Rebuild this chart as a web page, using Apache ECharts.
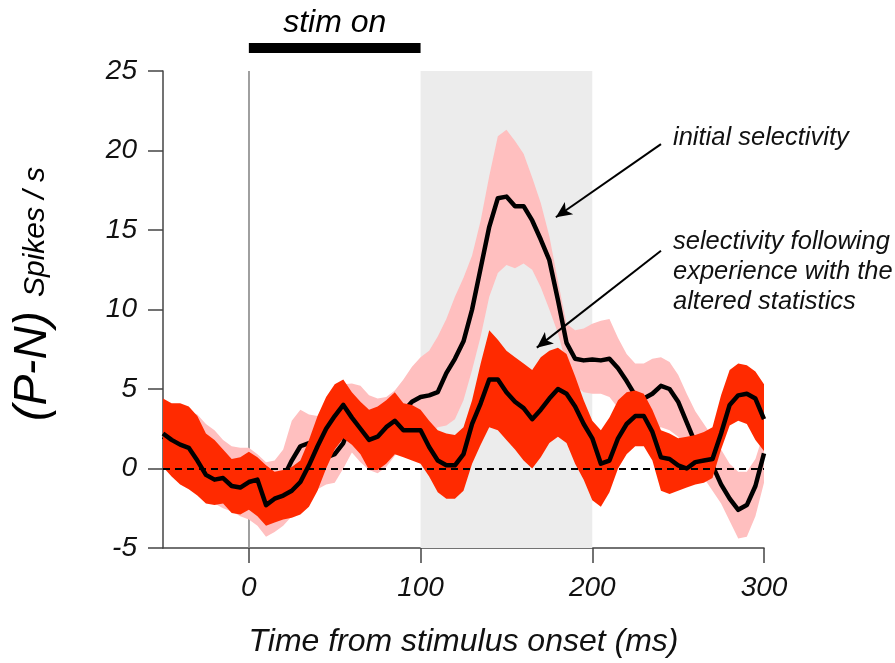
<!DOCTYPE html>
<html>
<head>
<meta charset="utf-8">
<title>Selectivity before and after altered statistics</title>
<script src="https://cdn.jsdelivr.net/npm/echarts@6.0.0/dist/echarts.min.js"></script>
<style>
  html, body { margin: 0; padding: 0; background: #fff; }
  #chart { width: 895px; height: 663px; }
</style>
</head>
<body>
<div id="chart"></div>
<script>
// time axis (ms from stimulus onset)
const timeMs = [
  -50, -45, -40, -35, -30, -25, -20, -15, -10, -5,
  0, 5, 10, 15, 20, 25, 30, 35, 40, 45,
  50, 55, 60, 65, 70, 75, 80, 85, 90, 95,
  100, 105, 110, 115, 120, 125, 130, 135, 140, 145,
  150, 155, 160, 165, 170, 175, 180, 185, 190, 195,
  200, 205, 210, 215, 220, 225, 230, 235, 240, 245,
  250, 255, 260, 265, 270, 275, 280, 285, 290, 295,
  300
];

// initial selectivity (P-N), spikes/s
const initialMean = [
  2.0, 1.7, 1.6, 1.2, 0.6, 0.2, -0.3, -0.5, -0.6, -0.9,
  -1.0, -1.2, -1.5, -1.2, -0.6, 0.5, 1.4, 1.6, 1.2, 0.7,
  0.9, 1.6, 3.0, 2.8, 2.2, 2.0, 2.4, 3.0, 3.6, 4.2,
  4.5, 4.6, 4.8, 6.0, 6.9, 8.0, 10.0, 12.6, 15.2, 17.0,
  17.1, 16.5, 16.5, 15.6, 14.4, 13.1, 10.6, 7.9, 6.9, 6.8,
  6.85, 6.8, 6.9, 6.3, 5.5, 4.6, 4.4, 4.7, 5.2, 5.0,
  4.2, 2.9, 1.6, 0.7, 0.2, -1.0, -1.9, -2.6, -2.3, -1.1,
  0.95
];
const initialHigh = [
  3.9, 3.8, 3.7, 3.6, 3.4, 2.8, 2.4, 1.8, 1.4, 1.3,
  1.3, 0.9, 0.4, 0.5, 1.2, 3.0, 3.7, 3.4, 3.3, 4.2,
  5.0, 5.3, 5.35, 5.2, 4.6, 4.4, 4.5, 4.9, 5.6, 6.4,
  7.0, 7.4, 8.3, 9.4, 10.8, 12.0, 13.4, 15.6, 18.4, 20.9,
  21.3, 20.6, 19.8, 18.3, 16.7, 14.6, 11.8, 9.1, 8.7, 8.8,
  9.1, 9.3, 9.4, 8.2, 7.2, 6.6, 6.6, 6.9, 7.0, 6.7,
  5.9, 4.7, 3.6, 2.8, 2.0, 1.2, 0.3, -0.2, -0.2, 0.6,
  2.3
];
const initialLow = [
  0.3, -0.2, -0.5, -1.0, -1.5, -1.8, -2.2, -2.5, -2.7, -3.0,
  -3.2, -3.6, -4.3, -4.0, -3.6, -3.0, -2.4, -1.8, -1.3, -1.0,
  -0.9, 0.0, 1.0, 0.4, -0.1, -0.3, 0.1, 0.8, 1.4, 1.7,
  1.9, 2.1, 2.6, 2.7, 3.1, 4.3, 6.2, 8.3, 10.8, 12.3,
  12.8, 12.6, 12.9, 12.5, 11.4, 10.0, 8.5, 6.5, 5.2, 4.8,
  4.7, 4.7, 4.5, 3.8, 3.3, 2.8, 2.6, 2.4, 2.6, 2.4,
  2.0, 1.2, 0.3, -0.6, -1.4, -2.2, -3.3, -4.4, -4.3, -3.0,
  -0.9
];

// selectivity following experience with the altered statistics
const alteredMean = [
  2.2, 1.8, 1.5, 1.3, 0.5, -0.4, -0.7, -0.6, -1.1, -1.2,
  -0.85, -0.7, -2.3, -1.9, -1.7, -1.4, -0.85, 0.2, 1.4, 2.5,
  3.3, 4.0, 3.2, 2.5, 1.8, 2.0, 2.6, 3.0, 2.4, 2.4,
  2.4, 1.35, 0.5, 0.2, 0.2, 0.9, 2.8, 4.1, 5.6, 5.6,
  4.8, 4.2, 3.8, 3.1, 3.7, 4.4, 5.0, 4.7, 3.9, 2.8,
  1.9, 0.3, 0.5, 1.9, 2.8, 3.3, 3.3, 2.3, 0.7, 0.6,
  0.2, 0.0, 0.4, 0.5, 0.6, 2.2, 4.0, 4.6, 4.7, 4.4,
  3.1
];
const alteredHigh = [
  4.4, 4.1, 4.1, 3.9, 3.3, 2.2, 1.8, 1.2, 0.6, 0.7,
  1.05, 0.7, 0.2, -0.2, -0.1, 0.1, 0.5, 1.8, 3.3, 4.5,
  5.3, 5.6, 4.8, 4.2, 3.7, 3.9, 4.3, 4.8, 4.1, 4.0,
  3.7, 3.0, 2.4, 2.2, 2.1, 2.6, 4.3, 6.6, 8.7, 8.1,
  7.4, 7.0, 6.6, 6.2, 7.0, 7.4, 7.6, 7.2, 5.8, 4.3,
  3.0, 2.4, 3.2, 4.3, 4.8, 4.9, 4.7, 3.7, 2.4, 2.2,
  1.9, 2.0, 2.1, 2.3, 2.6, 4.6, 6.2, 6.6, 6.5, 6.1,
  5.3
];
const alteredLow = [
  0.1, -0.5, -1.0, -1.3, -1.7, -2.2, -2.3, -2.2, -2.8, -2.9,
  -2.6, -3.0, -3.6, -3.4, -3.2, -3.1, -2.9, -2.4, -1.4, 0.0,
  1.2, 1.9, 1.5, 0.9, -0.1, -0.1, 0.3, 0.9, 0.7, 0.5,
  0.3, -0.5, -1.5, -1.9, -1.9, -1.4, 0.3, 1.5, 2.6, 2.4,
  1.8, 1.2, 0.5, 0.0, 0.7, 1.6, 2.0, 1.6, 0.3, -0.7,
  -2.0, -2.4, -1.5, 0.0, 0.9, 1.4, 1.4, 0.5, -1.4, -1.6,
  -1.4, -1.2, -1.0, -0.9, -0.6, 1.2, 2.7, 3.0, 2.8, 1.8,
  1.1
];

const xTicks = [0, 100, 200, 300];
const stimWindow = [0, 100];
const shadedWindow = [100, 200];
// arrow start / end in data coordinates
const arrowInitial = [[240, 20.4], [178.8, 15.8]];
const arrowAltered = [[240, 13.7], [167.7, 7.6]];

const fontFamily = '"Liberation Sans", Arial, Helvetica, sans-serif';
const axisColor = '#444';

function bandRenderer(low, high, fill) {
  return function (params, api) {
    if (params.dataIndex !== 0) return;
    const points = [];
    for (let i = 0; i < timeMs.length; i++) points.push(api.coord([timeMs[i], high[i]]));
    for (let i = timeMs.length - 1; i >= 0; i--) points.push(api.coord([timeMs[i], low[i]]));
    return {
      type: 'polygon',
      shape: { points: points },
      style: { fill: fill }
    };
  };
}

function bandData(low, high) {
  return timeMs.map((t, i) => [t, low[i], high[i]]);
}

function lineData(values) {
  return timeMs.map((t, i) => [t, values[i]]);
}

function arrow(points) {
  return [
    { coord: points[0], symbol: 'none' },
    { coord: points[1], symbol: 'arrow', symbolSize: [11, 16] }
  ];
}

const chart = echarts.init(document.getElementById('chart'), null, { renderer: 'canvas' });

chart.setOption({
  animation: false,
  textStyle: { fontFamily: fontFamily },
  grid: { left: 163, right: 131, top: 71, bottom: 115 },
  xAxis: {
    type: 'value',
    min: -50,
    max: 300,
    name: 'Time from stimulus onset (ms)',
    nameLocation: 'middle',
    nameGap: 78,
    nameTextStyle: { fontSize: 32, fontStyle: 'italic', color: '#111', fontFamily: fontFamily },
    axisLine: { show: true, onZero: false, lineStyle: { color: axisColor, width: 1.5 } },
    axisTick: { show: true, length: 15, customValues: xTicks, lineStyle: { color: axisColor, width: 1.5 } },
    axisLabel: { customValues: xTicks, fontSize: 28, fontStyle: 'italic', color: '#111', margin: 26 },
    splitLine: { show: false }
  },
  yAxis: {
    type: 'value',
    min: -5,
    max: 25,
    interval: 5,
    axisLine: { show: true, onZero: false, lineStyle: { color: axisColor, width: 1.5 } },
    axisTick: { show: true, length: 15, lineStyle: { color: axisColor, width: 1.5 } },
    axisLabel: { fontSize: 28, fontStyle: 'italic', color: '#111', margin: 26 },
    splitLine: { show: false }
  },
  series: [
    {
      name: 'initial band',
      type: 'custom',
      z: 2,
      clip: true,
      silent: true,
      renderItem: bandRenderer(initialLow, initialHigh, '#ffbfbf'),
      encode: { x: 0, y: [1, 2] },
      data: bandData(initialLow, initialHigh)
    },
    {
      name: 'initial selectivity',
      type: 'line',
      z: 3,
      symbol: 'none',
      silent: true,
      lineStyle: { color: '#000', width: 4.5, join: 'round' },
      data: lineData(initialMean),
      markArea: {
        z: 1,
        silent: true,
        itemStyle: { color: '#ececec' },
        data: [[{ xAxis: shadedWindow[0] }, { xAxis: shadedWindow[1] }]]
      },
      markLine: {
        z: 1,
        silent: true,
        symbol: 'none',
        label: { show: false },
        lineStyle: { color: '#888', width: 1.6, type: 'solid' },
        data: [{ xAxis: 0 }]
      }
    },
    {
      name: 'altered band',
      type: 'custom',
      z: 4,
      clip: true,
      silent: true,
      renderItem: bandRenderer(alteredLow, alteredHigh, '#ff2a00'),
      encode: { x: 0, y: [1, 2] },
      data: bandData(alteredLow, alteredHigh)
    },
    {
      name: 'altered selectivity',
      type: 'line',
      z: 5,
      symbol: 'none',
      silent: true,
      lineStyle: { color: '#000', width: 4.5, join: 'round' },
      data: lineData(alteredMean),
      markLine: {
        z: 10,
        silent: true,
        symbol: 'none',
        label: { show: false },
        lineStyle: { color: '#000', width: 2, type: 'solid' },
        data: [
          { yAxis: 0, lineStyle: { type: [7, 5], color: '#000', width: 2.2 } },
          arrow(arrowInitial),
          arrow(arrowAltered)
        ]
      }
    }
  ]
});

// stimulus bar sits over the 0-100 ms window
const stimX0 = chart.convertToPixel({ xAxisIndex: 0 }, stimWindow[0]);
const stimX1 = chart.convertToPixel({ xAxisIndex: 0 }, stimWindow[1]);

chart.setOption({
  graphic: [
    {
      type: 'rect',
      shape: { x: stimX0, y: 43, width: stimX1 - stimX0, height: 10 },
      style: { fill: '#000' }
    },
    {
      type: 'text',
      x: (stimX0 + stimX1) / 2,
      y: 23,
      style: {
        text: 'stim on', fill: '#000', font: 'italic 32px ' + fontFamily,
        textAlign: 'center', textVerticalAlign: 'middle'
      }
    },
    {
      type: 'text',
      x: 33,
      y: 366,
      rotation: Math.PI / 2,
      style: {
        text: '(P-N)', fill: '#000', font: 'italic 46px ' + fontFamily,
        textAlign: 'center', textVerticalAlign: 'middle'
      }
    },
    {
      type: 'text',
      x: 36,
      y: 232,
      rotation: Math.PI / 2,
      style: {
        text: 'Spikes / s', fill: '#000', font: 'italic 30px ' + fontFamily,
        textAlign: 'center', textVerticalAlign: 'middle'
      }
    },
    {
      type: 'text',
      x: 673,
      y: 138,
      style: {
        text: 'initial selectivity', fill: '#111', font: 'italic 25.5px ' + fontFamily,
        textAlign: 'left', textVerticalAlign: 'middle'
      }
    },
    {
      type: 'text',
      x: 673,
      y: 272,
      style: {
        text: 'selectivity following\nexperience with the\naltered statistics',
        fill: '#111', font: 'italic 25.5px ' + fontFamily, lineHeight: 30,
        textAlign: 'left', textVerticalAlign: 'middle'
      }
    }
  ]
});
</script>
</body>
</html>
